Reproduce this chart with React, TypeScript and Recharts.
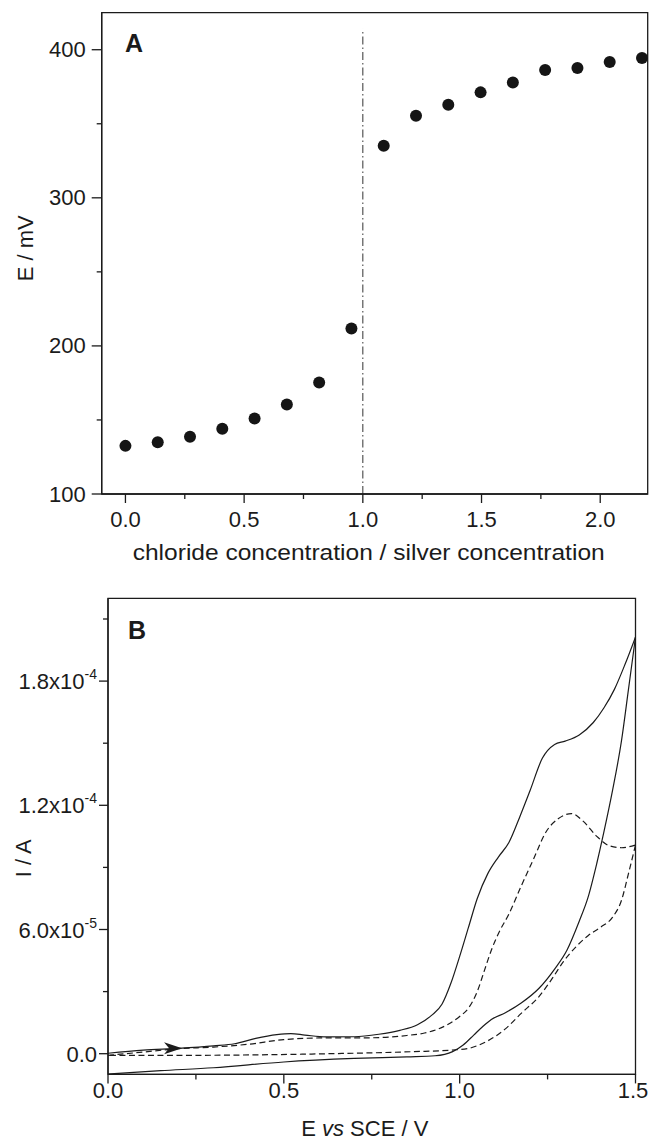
import React from "react";
import {
  Label,
  Line,
  LineChart,
  ReferenceArea,
  ReferenceDot,
  ReferenceLine,
  Scatter,
  ScatterChart,
  XAxis,
  YAxis,
} from "recharts";

const INK = "#1b1b1b";
const FONT = '"Liberation Sans", Arial, Helvetica, sans-serif';
const PAGE_W = 649;

// ---- panel A: potential vs. Cl/Ag ratio ----
const ratio = [0, 0.136, 0.272, 0.408, 0.544, 0.68, 0.816, 0.952, 1.088, 1.224, 1.36, 1.496, 1.632, 1.768, 1.904, 2.04, 2.176];
const potentialMv = [132.5, 135, 138.6, 144, 151, 160.4, 175.3, 211.8, 335.1, 355.4, 362.8, 371.2, 377.9, 386.3, 387.6, 391.7, 394.4];
const xTicksA = [0, 0.25, 0.5, 0.75, 1, 1.25, 1.5, 1.75, 2];
const xMajorA = [0, 0.5, 1, 1.5, 2];
const yTicksA = [100, 150, 200, 250, 300, 350, 400];
const yMajorA = [100, 200, 300, 400];
const equivalenceRatio = 1;

// ---- panel B: cyclic voltammograms (current in 1e-5 A) ----
const solidFwdV = [0, 0.1, 0.2, 0.3, 0.36, 0.42, 0.48, 0.52, 0.56, 0.62, 0.7, 0.77, 0.83, 0.88, 0.92, 0.95, 0.975, 1.0, 1.025, 1.05, 1.08, 1.11, 1.14, 1.17, 1.2, 1.235, 1.27, 1.3, 1.34, 1.38, 1.41, 1.44, 1.47, 1.5];
const solidFwdI = [0.02, 0.17, 0.26, 0.38, 0.48, 0.74, 0.92, 0.97, 0.9, 0.81, 0.82, 0.94, 1.13, 1.4, 1.85, 2.4, 3.4, 4.7, 6.1, 7.5, 8.7, 9.5, 10.2, 11.4, 12.7, 14.27, 14.94, 15.1, 15.4, 16.0, 16.7, 17.6, 18.8, 20.13];
const solidRevV = [1.5, 1.48, 1.46, 1.435, 1.41, 1.39, 1.365, 1.34, 1.305, 1.27, 1.225, 1.175, 1.13, 1.09, 1.065, 1.04, 1.01, 0.98, 0.93, 0.85, 0.7, 0.5, 0.3, 0.15, 0];
const solidRevI = [20.13, 17.6, 15.1, 12.74, 10.7, 9.2, 7.55, 6.4, 5.0, 4.09, 3.15, 2.45, 1.98, 1.65, 1.3, 0.9, 0.42, 0.1, -0.1, -0.15, -0.23, -0.4, -0.68, -0.82, -0.98];
const dashFwdV = [0, 0.1, 0.2, 0.3, 0.4, 0.5, 0.6, 0.75, 0.85, 0.9, 0.94, 0.97, 1.0, 1.025, 1.05, 1.07, 1.09, 1.11, 1.14, 1.175, 1.21, 1.245, 1.28, 1.318, 1.35, 1.39, 1.425, 1.46, 1.5];
const dashFwdI = [-0.08, 0.08, 0.24, 0.32, 0.46, 0.68, 0.76, 0.77, 0.88, 1.0, 1.2, 1.45, 1.8, 2.2, 3.0, 4.0, 5.0, 5.8, 6.75, 8.1, 9.4, 10.7, 11.35, 11.6, 11.25, 10.5, 10.05, 9.95, 10.08];
const dashRevV = [1.5, 1.48, 1.46, 1.435, 1.4, 1.365, 1.33, 1.295, 1.26, 1.225, 1.175, 1.13, 1.08, 1.035, 0.99, 0.87, 0.63, 0.4, 0.2, 0];
const dashRevI = [10.08, 8.7, 7.4, 6.6, 6.1, 5.7, 5.15, 4.45, 3.55, 2.75, 1.95, 1.2, 0.62, 0.3, 0.19, 0.1, 0.0, -0.06, -0.08, -0.08];
const xTicksB = [0, 0.25, 0.5, 0.75, 1, 1.25, 1.5];
const xMajorB = [0, 0.5, 1, 1.5];
const yTicksB = [0, 3e-5, 6e-5, 9e-5, 1.2e-4, 1.5e-4, 1.8e-4, 2.1e-4];
const yMajorB = [0, 6e-5, 1.2e-4, 1.8e-4];
const yMantB = ["0.0", "6.0", "1.2", "1.8"];
const yExpB = ["", "-5", "-4", "-4"];
const scanStart = { v: 0.185, i: 0.26 };

const toRows = (xs: number[], ys: number[], k = 1) => xs.map((x, i) => ({ x, y: ys[i] * k }));
const pointsA = toRows(ratio, potentialMv);
const solidFwd = toRows(solidFwdV, solidFwdI, 1e-5);
const solidRev = toRows(solidRevV, solidRevI, 1e-5);
const dashFwd = toRows(dashFwdV, dashFwdI, 1e-5);
const dashRev = toRows(dashRevV, dashRevI, 1e-5);

const indexIn = (v: number, list: number[]) => list.findIndex((m) => Math.abs(m - v) < 1e-12);
const textStyle = { fontFamily: FONT, fill: INK };

const xTick = (majors: number[], gap: number) => (p: any) => {
  const v = p.payload.value;
  const major = indexIn(v, majors) >= 0;
  // keep the last label inside the page (half width of "0.0" at 22px is ~15px)
  const tx = Math.min(p.x, PAGE_W - 16);
  return (
    <g>
      <line x1={p.x} x2={p.x} y1={p.y} y2={p.y + (major ? 9 : 5)} stroke={INK} strokeWidth={1.3} />
      {major && (
        <text x={tx} y={p.y + gap} textAnchor="middle" fontSize={22} {...textStyle}>
          {v.toFixed(1)}
        </text>
      )}
    </g>
  );
};

const yTickA = (p: any) => {
  const v = p.payload.value;
  const major = indexIn(v, yMajorA) >= 0;
  return (
    <g>
      <line x1={p.x} x2={p.x - (major ? 10 : 5)} y1={p.y} y2={p.y} stroke={INK} strokeWidth={1.3} />
      {major && (
        <text x={p.x - 16} y={p.y + 7.5} textAnchor="end" fontSize={22} {...textStyle}>
          {v}
        </text>
      )}
    </g>
  );
};

const yTickB = (p: any) => {
  const k = indexIn(p.payload.value, yMajorB);
  const major = k >= 0;
  return (
    <g>
      <line x1={p.x} x2={p.x - (major ? 9 : 5)} y1={p.y} y2={p.y} stroke={INK} strokeWidth={1.3} />
      {major && (
        <text x={p.x - 11} y={p.y + 8} textAnchor="end" fontSize={22} {...textStyle}>
          {yMantB[k]}
          {yExpB[k] && <tspan>x10</tspan>}
          {yExpB[k] && (
            <tspan dy={-10} fontSize={14}>
              {yExpB[k]}
            </tspan>
          )}
        </text>
      )}
    </g>
  );
};

const panelLetter = (letter: string, dx: number, dy: number) => (p: any) => (
  <text x={p.viewBox.x + dx} y={p.viewBox.y + dy} fontSize={25} fontWeight="bold" {...textStyle}>
    {letter}
  </text>
);

const arrowHead = (p: any) => {
  const { cx, cy } = p;
  return (
    <path
      d={`M${cx + 9},${cy} L${cx - 9},${cy - 6} L${cx - 4},${cy} L${cx - 9},${cy + 6} Z`}
      fill={INK}
    />
  );
};

const axisLine = { stroke: INK, strokeWidth: 1.3 };

export default function App() {
  return (
    <div style={{ position: "absolute", left: 0, top: 0, width: PAGE_W, height: 1140, background: "#fff" }}>
      <div style={{ position: "absolute", left: 0, top: 0 }}>
        <ScatterChart width={PAGE_W} height={575} margin={{ top: 12.7, right: 1.3, left: 0, bottom: 0 }}>
          <XAxis
            type="number"
            dataKey="x"
            domain={[-0.1, 2.2]}
            ticks={xTicksA}
            interval={0}
            tickSize={0}
            tickMargin={0}
            tickLine={false}
            tick={xTick(xMajorA, 33)}
            axisLine={axisLine}
            height={81}
            allowDataOverflow
          >
            <Label
              content={(p: any) => (
                <text
                  x={p.viewBox.x + p.viewBox.width / 2 - 6}
                  y={p.viewBox.y + 66}
                  textAnchor="middle"
                  fontSize={22}
                  textLength={472}
                  lengthAdjust="spacingAndGlyphs"
                  {...textStyle}
                >
                  chloride concentration / silver concentration
                </text>
              )}
            />
          </XAxis>
          <YAxis
            type="number"
            dataKey="y"
            domain={[100, 425]}
            ticks={yTicksA}
            interval={0}
            tickSize={0}
            tickMargin={0}
            tickLine={false}
            tick={yTickA}
            axisLine={axisLine}
            width={101.7}
            allowDataOverflow
          >
            <Label
              content={(p: any) => {
                const cy = p.viewBox.y + p.viewBox.height / 2 - 5;
                return (
                  <text x={33} y={cy} transform={`rotate(-90, 33, ${cy})`} textAnchor="middle" fontSize={22} {...textStyle}>
                    E / mV
                  </text>
                );
              }}
            />
          </YAxis>
          <ReferenceArea x1={-0.1} x2={2.2} y1={100} y2={425} fill="none" stroke={INK} strokeWidth={1.3} ifOverflow="visible">
            <Label content={panelLetter("A", 23.3, 39.3)} />
          </ReferenceArea>
          <ReferenceLine
            segment={[
              { x: equivalenceRatio, y: 100 },
              { x: equivalenceRatio, y: 414 },
            ]}
            stroke="#333"
            strokeWidth={1}
            strokeDasharray="8 3 1.5 3"
          />
          <Scatter
            data={pointsA}
            fill={INK}
            isAnimationActive={false}
            shape={(p: any) => <circle cx={p.cx} cy={p.cy} r={6} fill="#151515" />}
          />
        </ScatterChart>
      </div>
      <div style={{ position: "absolute", left: 0, top: 575 }}>
        <LineChart width={PAGE_W} height={565} margin={{ top: 23.3, right: 13.5, left: 0, bottom: 0 }}>
          <XAxis
            type="number"
            dataKey="x"
            domain={[0, 1.5]}
            ticks={xTicksB}
            interval={0}
            tickSize={0}
            tickMargin={0}
            tickLine={false}
            tick={xTick(xMajorB, 24)}
            axisLine={axisLine}
            height={65.6}
            allowDataOverflow
          >
            <Label
              content={(p: any) => (
                <text x={p.viewBox.x + p.viewBox.width / 2 - 7} y={p.viewBox.y + 62} textAnchor="middle" fontSize={22} {...textStyle}>
                  <tspan>E </tspan>
                  <tspan fontStyle="italic">vs</tspan>
                  <tspan> SCE / V</tspan>
                </text>
              )}
            />
          </XAxis>
          <YAxis
            type="number"
            domain={[-1e-5, 2.2e-4]}
            ticks={yTicksB}
            interval={0}
            tickSize={0}
            tickMargin={0}
            tickLine={false}
            tick={yTickB}
            axisLine={axisLine}
            width={108}
            allowDataOverflow
          >
            <Label
              content={(p: any) => {
                const cy = p.viewBox.y + p.viewBox.height / 2 + 22;
                return (
                  <text x={31} y={cy} transform={`rotate(-90, 31, ${cy})`} textAnchor="middle" fontSize={22} {...textStyle}>
                    I / A
                  </text>
                );
              }}
            />
          </YAxis>
          <ReferenceArea x1={0} x2={1.5} y1={-1e-5} y2={2.2e-4} fill="none" stroke={INK} strokeWidth={1.3} ifOverflow="visible">
            <Label content={panelLetter("B", 20, 40.7)} />
          </ReferenceArea>
          <Line data={solidFwd} dataKey="y" type="monotone" stroke={INK} strokeWidth={1.2} dot={false} activeDot={false} isAnimationActive={false} />
          <Line data={solidRev} dataKey="y" type="monotone" stroke={INK} strokeWidth={1.2} dot={false} activeDot={false} isAnimationActive={false} />
          <Line data={dashFwd} dataKey="y" type="monotone" stroke={INK} strokeWidth={1.2} strokeDasharray="6 3.5" dot={false} activeDot={false} isAnimationActive={false} />
          <Line data={dashRev} dataKey="y" type="monotone" stroke={INK} strokeWidth={1.2} strokeDasharray="6 3.5" dot={false} activeDot={false} isAnimationActive={false} />
          <ReferenceDot x={scanStart.v} y={scanStart.i * 1e-5} r={6} shape={arrowHead} ifOverflow="visible" />
        </LineChart>
      </div>
    </div>
  );
}
